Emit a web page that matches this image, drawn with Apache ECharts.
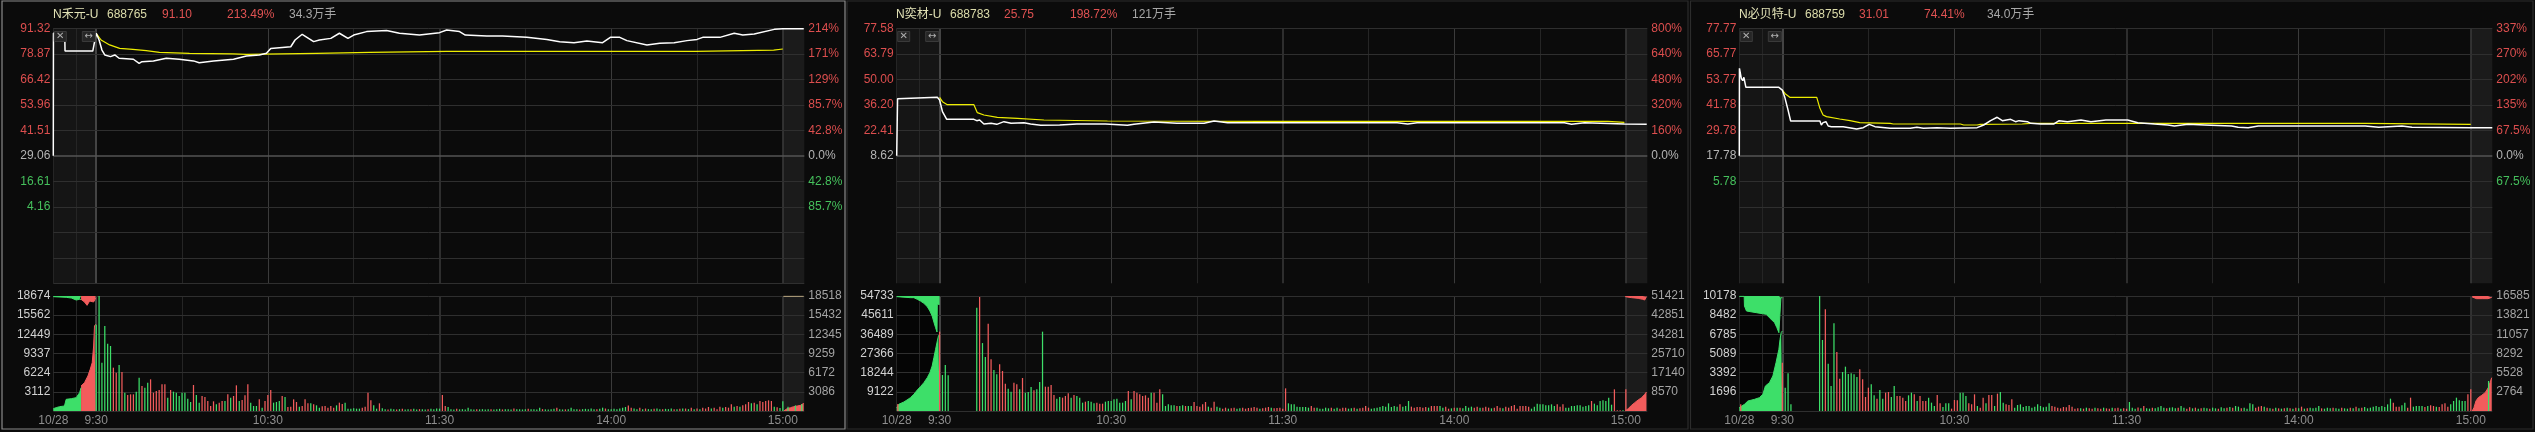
<!DOCTYPE html>
<html><head><meta charset="utf-8">
<script src="https://cdn.jsdelivr.net/npm/echarts@6/dist/echarts.min.js"></script>
<style>html,body{margin:0;padding:0;background:#0b0b0b;}#c{width:2535px;height:432px;}</style>
</head><body><div id="c"></div>
<script>
// ---------------- DATA ----------------
const NAMES = ['N禾元-U', 'N奕材-U', 'N必贝特-U'];
const CODES = ['688765', '688783', '688759'];
const LAST = ['91.10', '25.75', '31.01'];
const CHG = ['213.49%', '198.72%', '74.41%'];
const VOLTXT = ['34.3万手', '121万手', '34.0万手'];
const PRE_CLOSE = [29.06, 8.62, 17.78];
const PRICE_STEP = [12.452, 13.792, 11.998];
const VOL_TICKS_L = [['18674','15562','12449','9337','6224','3112'], ['54733','45611','36489','27366','18244','9122'], ['10178','8482','6785','5089','3392','1696']];
const VOL_TICKS_R = [['18518','15432','12345','9259','6172','3086'], ['51421','42851','34281','25710','17140','8570'], ['16585','13821','11057','8292','5528','2764']];
const VOL_MAX_L = [18674, 54733, 10178];
const VOL_MAX_R = [18518, 51421, 16585];
const X_LABELS = ['10/28', '9:30', '10:30', '11:30', '14:00', '15:00'];
const X_LABEL_MIN = [555, 570, 630, 690, 750, 810]; // minutes (afternoon joined after 11:30)

// panel 1 : N禾元-U
const P1_PRICE = [[555,29.06],[555.05,88.9],[556.5,89.2],[557.5,88.5],[559,88.9],[559.1,80.2],[568.8,80.2],[570,88.9],[571,85.6],[572,80.7],[573,78.3],[575,77.5],[576.5,78.3],[578,76.7],[583,76.2],[585,74.2],[586,75.0],[590,75.4],[594.5,76.7],[599,76.2],[604,75.4],[606,74.5],[611,75.4],[618,76.2],[622.5,77.8],[627,78.3],[629.5,79.1],[631,81.5],[638,82.3],[639.5,85.6],[642,88.4],[646,84.8],[648,85.6],[652,86.4],[655,88.9],[658,86.4],[660,88.0],[664.5,89.7],[671.5,90.2],[676,88.9],[683,88.0],[690,89.2],[692.5,90.5],[697,89.7],[699,88.0],[706.5,87.6],[712,87.6],[720.5,86.9],[727.5,85.9],[732,84.8],[737,84.3],[741.5,85.1],[747,84.3],[749.7,86.9],[753,86.9],[755.5,85.3],[762.5,83.2],[767,84.0],[772,84.3],[776.5,85.3],[780,85.9],[782,86.9],[788,86.9],[793,88.9],[796,88.0],[800,88.5],[807,90.8],[810,91.1],[817.3,91.1]];
const P1_AVG = [[570,88.85],[571.7,85.6],[574.7,83.2],[578.2,81.5],[582.8,81.0],[587.5,80.4],[592.1,79.6],[602.6,79.1],[617.8,78.8],[622.5,78.6],[647,79.1],[665.6,79.6],[692.5,80.1],[779.5,80.1],[780,80.7],[806.8,80.7],[807,81.2],[810,81.2]];
const P1_VOL = [14000,18674,7849,13803,10934,10555,7037,6225,7470,6333,2977,2598,2706,2706,3140,5413,4060,3789,4601,5142,2977,3248,3410,4330,4330,2165,3410,3140,2977,2436,2977,2977,2003,1462,4222,2598,1353,2436,2273,1624,812,1570,1083,1353,1624,1624,2706,2165,2436,4168,1624,1787,2544,4330,1353,812,812,1895,541,1624,2598,3410,1353,1462,1624,2436,2273,650,704,1895,1462,704,812,1895,1245,1245,1083,920,541,758,812,541,812,541,920,1353,1137,1353,379,379,433,379,379,541,704,2977,1732,920,379,1245,433,300,250,350,270,250,300,350,250,300,270,350,250,300,300,250,270,350,300,400,380,2598,812,650,300,250,350,270,300,250,540,300,250,300,270,300,250,300,270,250,300,350,250,270,300,250,400,300,270,250,300,350,270,300,250,540,300,270,250,300,350,540,300,250,270,300,540,300,270,250,300,350,270,400,300,270,350,540,400,300,270,350,300,400,540,650,900,540,400,300,540,300,400,300,270,350,400,300,270,350,300,400,300,270,350,400,400,300,540,300,400,300,540,400,650,400,540,300,700,540,650,540,1083,704,812,704,920,1083,1462,1245,1353,1083,1624,1462,1624,1732,1624,700,600,500,1600];
const P1_DIR = 'ggggggrrgr'+'grrrggrggr'+'rrrrrgrggg'+'ggggrggrrr'+'rrgrrgrgrr'+'grrrgggrgr'+'rrgggrgrrr'+'rgrrrgrggr'+'rrrrgrrggg'+'gggrrrrggr'+'ggrggrgrgg'+'rggrggrggg'+'grrgggrggg'+'gggrggggrg'+'ggrgggrggg'+'grggggrggg'+'grggrggggr'+'gggggrggrg'+'ggggggrrgg'+'rgrggrggrg'+'ggrgrgrgrg'+'rgrrrgrrrg'+'rrrgrgrrrg'+'rgrrrrrgrg'+'g';
const P1_PRE_BOT_G = [[555,379],[556,541],[557.2,704],[558.9,812],[559.4,812],[559.5,1895],[561.3,2003],[563,2165],[564.2,2977],[564.7,3789]];
const P1_PRE_BOT_R = [[564.7,4060],[565.9,4601],[567.1,5684],[567.9,6766],[568.6,7849],[569.1,10555],[569.4,13803],[569.8,14073]];
const P1_PRE_TOP_G = [[555,108],[559.5,216],[561.3,325],[563,650],[564.2,541],[564.7,541]];
const P1_PRE_TOP_R = [[564.7,541],[565.9,974],[566.8,1516],[567.1,1624],[567.7,812],[568.3,541],[569.1,974],[569.6,541],[569.8,300]];
const P1_POST_BOT = [[810.3,0],[810.6,268],[811.5,380],[812.7,537],[813.8,698],[815,805],[816.2,913],[817.3,1235]];
const P1_POST_BAR_G = [[811.8,700],[814.4,900],[816.6,1100]];
const P1_POST_TOP = [[810.2,40],[817.3,40]];

// panel 2 : N奕材-U
const P2_PRICE = [[555,8.62],[555.3,39.5],[555.6,40.24],[569.2,40.24],[570,38.8],[571,32.5],[572.5,28.34],[582,28.34],[583,27.62],[584,27.98],[585.5,25.82],[588,26.18],[590,25.64],[592.5,27.08],[595,26.18],[599.5,26.54],[601.8,25.82],[605.4,25.1],[612,25.28],[618,25.82],[628,25.82],[635.7,25.1],[638,25.64],[645,26.9],[653,26.18],[662.5,26.18],[663,27.08],[666,27.44],[670.7,26.54],[698,26.54],[730,26.54],[730.2,25.82],[733.7,25.82],[737,26.54],[785,26.54],[785.5,25.82],[788.5,26.54],[791,25.64],[795.5,26.54],[809.5,25.82],[810,25.75],[817.3,25.75]];
const P2_AVG = [[570,40.24],[571,37.9],[572.7,36.25],[582,36.25],[583.2,31.95],[585.5,30.7],[590.2,29.42],[597.2,28.88],[606.5,27.98],[628.7,27.44],[683.5,27.26],[803.7,27.26],[804,26.72],[809.5,26.72]];
const P2_VOL = [37759,17134,21894,16975,0,0,0,0,0,0,0,0,0,49182,54258,32333,25701,41566,24590,19514,17452,22211,19038,13009,10630,9202,13485,12692,10312,15706,8726,9043,11423,9836,10312,13803,37759,11581,11581,12375,7615,5870,6663,6346,7139,8409,6346,7615,7139,6346,3966,4443,4760,4443,3649,3966,3490,3490,4443,4760,4760,5553,5870,3966,3966,4760,9519,5553,9519,8726,7932,7139,7456,6346,8726,8726,3966,10312,7932,2380,3173,2697,2697,2380,2380,2697,2380,2380,2380,4284,2380,2063,3173,4284,2063,1587,4443,2063,1587,1111,1587,1111,1270,1587,1111,1270,1587,1111,1428,1587,1905,1587,1111,1270,1587,1905,1587,1270,1428,1587,1111,10788,3649,3173,3173,2063,1905,1905,1905,1587,2380,1587,1587,1111,1111,1587,1270,1587,1111,1587,1111,1587,1587,1111,1270,1587,1111,1270,1587,2380,1587,1111,1270,1587,1905,2380,2063,3649,1905,2380,2063,3173,2063,2380,4760,2063,1587,1905,1905,1587,1905,1587,2380,2380,2380,2380,1587,2063,1111,1270,1587,1587,1587,1270,2380,1587,2063,1587,2063,1587,1587,2063,1587,1270,1587,2380,1587,1270,2063,1587,2380,2856,1111,2380,2380,2380,2063,1111,2063,3490,3173,3173,2697,2697,3173,2380,3173,2063,3173,1587,1587,2380,2380,2697,2697,2063,2380,2697,4760,3490,2697,4760,5077,4760,6346,3000,10312,300,300,300,10312];
const P2_DIR = 'rgggrrrrrr'+'rrrgrggrrg'+'grrrggrrgr'+'gggrgggrrr'+'rggrrrgrgg'+'grgggrrrgg'+'ggggggrgrr'+'rrrrgrrrgg'+'gggrggrggr'+'rrrrgrrggr'+'rgrrggrrrr'+'rrgrrrgrrr'+'rrgggggggg'+'rrgggggrgg'+'rrrggrgrrr'+'rggggggggg'+'grgggrrrrr'+'rgrrrggrrg'+'rgrggggrrg'+'rrrgrrrgrr'+'rrrrrrrggg'+'ggggggrrrg'+'ggggggggrg'+'ggggggrrrg'+'r';
const P2_PRE_BOT_G = [[555,1500],[555.7,3173],[557.5,4284],[558.6,5235],[559.8,6346],[561,7932],[562.2,9995],[563.3,11581],[564.5,13485],[565.7,15865],[566.6,18245],[567.4,21418],[568,25384],[568.6,29350],[569.2,33317],[569.6,35696],[570,36500]];
const P2_PRE_BAR_R = [[555.4,3300]];
const P2_PRE_TOP_G = [[555,300],[559.8,793],[561,793],[562.2,1587],[563.3,2380],[564.5,3490],[565.7,5077],[566.6,7139],[567.4,9519],[568,12375],[568.6,15071],[569.1,17134],[569.2,3967],[570,3967]];
const P2_POST_BOT = [[809.8,0],[810.8,1043],[812,2534],[813.1,3726],[814.3,4919],[815.5,5962],[816.6,7453],[817.2,8496]];
const P2_POST_TOP = [[809.8,300],[812,745],[814.3,1043],[815.9,1490],[816.6,1789],[817.2,300]];

// panel 3 : N必贝特-U
const P3_PRICE = [[555,17.78],[555.05,58.95],[555.7,54.2],[556.2,53.1],[556.6,54.7],[557.2,54.7],[557.3,50.0],[568.8,50.0],[569,49.06],[570,48.7],[570.8,45.6],[572,39.3],[572.9,34.16],[583.1,34.16],[583.6,32.3],[584.2,33.37],[585.2,33.84],[586,31.8],[587.1,31.49],[591.2,31.49],[595.9,30.4],[598.2,31.02],[600.3,32.59],[602.3,31.49],[607.6,30.7],[614.6,30.7],[616.9,31.17],[619.2,30.7],[623.9,31.02],[628.6,30.7],[637.9,31.02],[640.2,32.27],[642.6,34.32],[644.9,35.9],[646.7,34.32],[649.6,34.95],[651.3,33.84],[652.5,34.32],[655.4,33.84],[656.6,33.06],[660.1,32.75],[664.7,32.75],[666.5,34.32],[669.4,33.84],[674.1,34.63],[677.6,33.84],[682.8,34.63],[690.4,34.63],[693.9,33.37],[699.7,32.75],[704.4,32.27],[706.7,31.8],[711.4,32.59],[717.2,32.27],[726.6,31.8],[728.9,31.17],[732.4,31.02],[735.9,31.8],[773.2,31.8],[777.9,31.17],[786,31.8],[789.5,31.17],[810,31.01],[817.5,31.01]];
const P3_AVG = [[570,48.7],[571,47.0],[572.6,45.3],[582,45.3],[583.1,40.1],[584.2,37.0],[585.4,36.2],[590,35.1],[593.6,34.3],[597,33.4],[607.6,33.06],[608.7,32.75],[632.1,32.75],[633.2,32.27],[637.9,32.27],[639,32.59],[653.6,32.75],[656.6,33.06],[773.2,33.06],[773.5,32.59],[810,32.59]];
const P3_VOL = [4278,2065,3334,590,0,0,0,0,0,0,0,0,0,10178,6284,8998,4189,2213,7759,5222,2862,3452,3924,3275,3334,3245,3009,3688,2803,1239,2065,2360,1387,1092,1859,1092,1623,1682,1239,2213,1328,1328,1180,885,1387,1623,1475,885,1328,885,885,1180,738,443,1416,679,354,679,679,207,974,944,1623,1623,1328,679,590,1475,443,295,1180,679,1416,1416,443,1534,1682,738,590,531,1033,295,531,590,354,443,443,295,383,590,443,325,383,679,443,383,295,236,354,325,531,383,207,236,236,207,295,236,207,295,236,207,295,236,207,295,236,295,207,236,200,797,295,207,300,250,443,236,207,295,236,325,443,295,236,295,325,236,295,443,295,207,325,236,295,207,236,295,236,207,295,236,207,325,236,295,354,295,443,383,236,295,207,679,590,295,383,443,383,295,236,207,295,236,207,236,295,236,207,295,236,383,207,236,295,236,295,443,236,207,295,236,295,236,207,295,236,207,295,236,383,236,295,354,236,295,383,443,354,443,354,590,1092,738,383,383,502,738,295,1180,383,443,443,443,354,443,502,443,383,354,590,679,383,590,885,1180,943,885,885,1475,1918];
const P3_DIR = 'rgggrrrrrr'+'rrrggrgggr'+'rggggggrrr'+'rggrggrrgg'+'rrrrggrgrr'+'rgggrrgggr'+'rrgggrrrgr'+'rgrrgrggrr'+'rggggggggg'+'ggggrrrrrr'+'rrrrgrgrrg'+'rrgrrgrrgr'+'rgggrgrggr'+'ggggrgggrg'+'grrgrgrggr'+'ggrggrgrgg'+'rggggrrrgr'+'grgrgrgrgr'+'grgrggggrg'+'ggrggrggrg'+'rgrggggggg'+'gggrrrggrr'+'ggggrgrrgr'+'rrrggggggr'+'r';
const P3_PRE_BOT_G = [[555,300],[556.8,590],[558,885],[560.3,1033],[562,1180],[563.2,1475],[564.1,2213],[565.5,2508],[566.7,3098],[567.8,4278],[568.8,5458],[569.2,6343],[569.6,6933],[570,7080]];
const P3_PRE_BAR_R = [[555.5,600]];
const P3_PRE_TOP_G = [[555,30],[556.7,30],[556.8,885],[557.5,1328],[560.9,1475],[564.4,1623],[565.5,1918],[567.3,2360],[568.1,2803],[568.8,3245],[569.2,3393],[569.5,150],[570,150]];
const P3_POST_BOT = [[810.5,0],[811.1,481],[811.8,1442],[812.6,1923],[813.8,2259],[815,2644],[816.1,3365],[816.7,4086],[817.3,4807]];
const P3_POST_BAR_G = [[816.2,4326]];
const P3_POST_TOP = [[810.5,150],[812,385],[814,385],[816,385],[817.3,200]];

// ---------------- STYLE / LAYOUT ----------------
const T_OPEN = 570, X_MIN = 555, X_MAX = 817.5;
const FONT = '"Liberation Sans", Arial, "Noto Sans CJK SC", sans-serif';
const RED_T = '#dc4e4e', GREEN_T = '#45c05c', GRAY_T = '#b4b4b4';
const BAR_R = '#f25c5c', BAR_G = '#3ddf69';
const G_DIM = '#252525', G_MID = '#2f2f2f', G_BRIGHT = '#3b3b3b', G_ZERO = '#545454';
const PLOT_L = [53.3, 896.7, 1739.3], PLOT_R = [804.3, 1647.3, 2492.3];
const HEAD_X = [[53, 107, 162, 227, 289], [896, 950, 1004, 1070, 1132], [1739, 1805, 1859, 1924, 1987]];
const BOXES = [[2, 1, 843, 428, '#8a8a8a'], [847, 1, 841, 428, '#2c2c2c'], [1690.5, 1, 842.5, 428, '#2c2c2c']];

const PANELS = [
  {price: P1_PRICE, avg: P1_AVG, vol: P1_VOL, dir: P1_DIR, preBotG: P1_PRE_BOT_G, preBotR: P1_PRE_BOT_R, preTopG: P1_PRE_TOP_G, preTopR: P1_PRE_TOP_R, preBarR: [], postBot: P1_POST_BOT, postBarG: P1_POST_BAR_G, postTop: P1_POST_TOP, postTopColor: '#c8b48a'},
  {price: P2_PRICE, avg: P2_AVG, vol: P2_VOL, dir: P2_DIR, preBotG: P2_PRE_BOT_G, preBotR: [], preTopG: P2_PRE_TOP_G, preTopR: [], preBarR: P2_PRE_BAR_R, postBot: P2_POST_BOT, postBarG: [], postTop: P2_POST_TOP, postTopColor: BAR_R},
  {price: P3_PRICE, avg: P3_AVG, vol: P3_VOL, dir: P3_DIR, preBotG: P3_PRE_BOT_G, preBotR: [], preTopG: P3_PRE_TOP_G, preTopR: [], preBarR: P3_PRE_BAR_R, postBot: P3_POST_BOT, postBarG: P3_POST_BAR_G, postTop: P3_POST_TOP, postTopColor: BAR_R}
];

const option = {backgroundColor: '#0b0b0b', animation: false, grid: [], xAxis: [], yAxis: [], series: [], graphic: []};

function vLines() {
  const defs = [[555, G_DIM, 1], [563, G_DIM, 1], [570, '#444', 2], [600, G_DIM, 1], [630, G_BRIGHT, 1], [660, G_DIM, 1], [690, G_BRIGHT, 1.5], [720, G_DIM, 1], [750, G_BRIGHT, 1], [780, G_DIM, 1], [810, G_BRIGHT, 1.5]];
  return defs.map(d => ({xAxis: d[0], lineStyle: {color: d[1], width: d[2], type: 'solid'}}));
}
const mlBase = {silent: true, symbol: ['none', 'none'], z: 1, label: {show: false}, animation: false, emphasis: {disabled: true}};

PANELS.forEach((P, k) => {
  const pc = PRE_CLOSE[k], st = PRICE_STEP[k], ps = st / pc * 100;
  const L = PLOT_L[k], W = PLOT_R[k] - PLOT_L[k];
  const pMin = pc - 5 * st, pMax = pc + 5 * st, qMin = -5 * ps, qMax = 5 * ps;
  option.grid.push({left: L, top: 28.3, width: W, height: 255});
  option.grid.push({left: L, top: 296, width: W, height: 115});
  const gx0 = 2 * k, gx1 = 2 * k + 1, yP = 4 * k, yPct = 4 * k + 1, yVL = 4 * k + 2, yVR = 4 * k + 3;
  option.xAxis.push({gridIndex: 2 * k, type: 'value', min: X_MIN, max: X_MAX, show: false});
  option.xAxis.push({gridIndex: 2 * k + 1, type: 'value', min: X_MIN, max: X_MAX, axisLine: {show: false}, axisTick: {show: false}, splitLine: {show: false},
    axisLabel: {customValues: X_LABEL_MIN, showMinLabel: true, showMaxLabel: true, margin: 4, color: '#8e8e8e', fontSize: 12, fontFamily: FONT,
      formatter: v => X_LABELS[X_LABEL_MIN.indexOf(Math.round(Number(v)))] || ''}});
  const leftVals = [], pctVals = [];
  for (let j = 5; j >= -5; j--) {
    if (pc + j * st > 0.5) {
      leftVals.push(j === 5 ? pMax : (j === -5 ? pMin : pc + j * st));
      pctVals.push(j === 5 ? qMax : (j === -5 ? qMin : j * ps));
    }
  }
  const colorBy = (v, c) => Math.abs(v - c) < 1e-3 ? GRAY_T : (v > c ? RED_T : GREEN_T);
  option.yAxis.push({gridIndex: 2 * k, type: 'value', min: pMin, max: pMax, position: 'left', axisLine: {show: false}, axisTick: {show: false}, splitLine: {show: false},
    axisLabel: {customValues: leftVals, showMinLabel: true, showMaxLabel: true, margin: 3, fontSize: 12, fontFamily: FONT, formatter: v => Number(v).toFixed(2), color: v => colorBy(parseFloat(v), pc)}});
  option.yAxis.push({gridIndex: 2 * k, type: 'value', min: qMin, max: qMax, position: 'right', axisLine: {show: false}, axisTick: {show: false}, splitLine: {show: false},
    axisLabel: {customValues: pctVals, showMinLabel: true, showMaxLabel: true, margin: 4, fontSize: 12, fontFamily: FONT,
      formatter: v => { const a = Math.abs(Number(v)); if (a < 1e-3) return '0.0%'; return (a >= 99.95 ? a.toFixed(0) : a.toFixed(1)) + '%'; },
      color: v => colorBy(parseFloat(v), 0)}});
  const vmL = VOL_MAX_L[k], vmR = VOL_MAX_R[k];
  const vVals = [6, 5, 4, 3, 2, 1];
  option.yAxis.push({gridIndex: 2 * k + 1, type: 'value', min: 0, max: vmL, position: 'left', axisLine: {show: false}, axisTick: {show: false}, splitLine: {show: false},
    axisLabel: {customValues: vVals.map(j => j === 6 ? vmL : vmL * j / 6), showMinLabel: true, showMaxLabel: true, margin: 3, fontSize: 12, fontFamily: FONT, color: '#d2d2d2',
      formatter: v => VOL_TICKS_L[k][6 - Math.round(6 * Number(v) / vmL)] || ''}});
  option.yAxis.push({gridIndex: 2 * k + 1, type: 'value', min: 0, max: vmR, position: 'right', axisLine: {show: false}, axisTick: {show: false}, splitLine: {show: false},
    axisLabel: {customValues: vVals.map(j => j === 6 ? vmR : vmR * j / 6), showMinLabel: true, showMaxLabel: true, margin: 4, fontSize: 12, fontFamily: FONT, color: '#a4a4a4',
      formatter: v => VOL_TICKS_R[k][6 - Math.round(6 * Number(v) / vmR)] || ''}});

  // grid helpers (gridlines and session shading drawn through the axes' scales)
  const hP = [];
  for (let j = -5; j <= 5; j++) hP.push({yAxis: pc + j * st, lineStyle: {color: j === 0 ? G_ZERO : G_MID, width: j === 0 ? 1.5 : 1, type: 'solid'}});
  option.series.push({type: 'line', xAxisIndex: gx0, yAxisIndex: yP, data: [[X_MIN, pc]], showSymbol: false, lineStyle: {opacity: 0}, silent: true, z: 0,
    markLine: Object.assign({}, mlBase, {data: vLines().concat(hP)}),
    markArea: {silent: true, z: 0, data: [[{xAxis: X_MIN, itemStyle: {color: '#151515'}}, {xAxis: 570}], [{xAxis: 810, itemStyle: {color: '#1b1b1b'}}, {xAxis: X_MAX}]]}});
  const hV = [];
  for (let j = 0; j <= 6; j++) hV.push({yAxis: vmL * j / 6, lineStyle: {color: G_MID, width: 1, type: 'solid'}});
  option.series.push({type: 'line', xAxisIndex: gx1, yAxisIndex: yVL, data: [[X_MIN, 0]], showSymbol: false, lineStyle: {opacity: 0}, silent: true, z: 0,
    markLine: Object.assign({}, mlBase, {data: vLines().concat(hV)}),
    markArea: {silent: true, z: 0, data: [[{xAxis: X_MIN, itemStyle: {color: '#050505'}}, {xAxis: 570}], [{xAxis: 810, itemStyle: {color: '#1b1b1b'}}, {xAxis: X_MAX}]]}});

  // price + average
  option.series.push({type: 'line', xAxisIndex: gx0, yAxisIndex: yP, data: P.avg, showSymbol: false, silent: true, z: 3, lineStyle: {color: '#eded00', width: 1.2}});
  option.series.push({type: 'line', xAxisIndex: gx0, yAxisIndex: yP, data: P.price, showSymbol: false, silent: true, z: 4, lineStyle: {color: '#ffffff', width: 1.5}});

  // per-minute volume bars
  const bars = [];
  P.vol.forEach((v, i) => { if (v > 0) bars.push({value: [T_OPEN + i, v], itemStyle: {color: P.dir[i] === 'r' ? BAR_R : BAR_G}}); });
  const area = (data, yi, color, inverted, max, z) => ({type: 'line', xAxisIndex: gx1, yAxisIndex: yi, silent: true, z: z || 2, showSymbol: false,
    data: inverted ? data.map(d => [d[0], max - d[1]]) : data,
    lineStyle: {color: color, width: 1}, areaStyle: {color: color, opacity: 1, origin: inverted ? 'end' : 'start'}});
  if (P.preBotG.length) option.series.push(area(P.preBotG, yVL, BAR_G, false, vmL));
  if (P.preBotR.length) option.series.push(area(P.preBotR, yVL, BAR_R, false, vmL));
  if (P.preTopG.length) option.series.push(area(P.preTopG, yVL, BAR_G, true, vmL));
  if (P.preTopR.length) option.series.push(area(P.preTopR, yVL, BAR_R, true, vmL));
  option.series.push(area(P.postBot, yVR, BAR_R, false, vmR));
  option.series.push(area(P.postTop, yVR, P.postTopColor, true, vmR));
  option.series.push({type: 'bar', xAxisIndex: gx1, yAxisIndex: yVL, data: bars, barWidth: 1.25, barGap: '-100%', silent: true, z: 3});
  option.series.push({type: 'bar', xAxisIndex: gx1, yAxisIndex: yVL, data: P.preBarR.map(d => ({value: d, itemStyle: {color: BAR_R}})), barWidth: 1.25, barGap: '-100%', silent: true, z: 3});
  option.series.push({type: 'bar', xAxisIndex: gx1, yAxisIndex: yVR, data: P.postBarG.map(d => ({value: d, itemStyle: {color: BAR_G}})), barWidth: 1.25, barGap: '-100%', silent: true, z: 3});

  // header
  const hx = HEAD_X[k];
  const hdr = [[NAMES[k], '#e2e2b6'], [CODES[k], '#dcdcaa'], [LAST[k], '#e05252'], [CHG[k], '#e05252'], [VOLTXT[k], '#a8a8a8']];
  hdr.forEach((h, i) => option.graphic.push({type: 'text', x: hx[i], y: 14.7, silent: true, z: 10, style: {text: h[0], fill: h[1], font: '12px ' + FONT, verticalAlign: 'middle', align: 'left'}}));
  // small tool icons
  option.graphic.push({type: 'rect', x: L + 1, y: 31.5, silent: true, z: 9, shape: {width: 12, height: 10}, style: {fill: '#262626', stroke: '#3a3a3a', lineWidth: 1}});
  option.graphic.push({type: 'text', x: L + 7, y: 36.8, silent: true, z: 10, style: {text: '✕', fill: '#b0b0b0', font: '10px "DejaVu Sans"', align: 'center', verticalAlign: 'middle'}});
  option.graphic.push({type: 'rect', x: L + 29, y: 31.5, silent: true, z: 9, shape: {width: 13, height: 10}, style: {fill: '#262626', stroke: '#3a3a3a', lineWidth: 1}});
  option.graphic.push({type: 'text', x: L + 35.5, y: 36.5, silent: true, z: 10, style: {text: '↔', fill: '#b0b0b0', font: '10px "DejaVu Sans"', align: 'center', verticalAlign: 'middle'}});
  // panel frame
  const b = BOXES[k];
  option.graphic.push({type: 'rect', x: b[0], y: b[1], silent: true, z: 20, shape: {width: b[2], height: b[3]}, style: {fill: 'none', stroke: b[4], lineWidth: 1.2}});
});

const chart = echarts.init(document.getElementById('c'), null, {renderer: 'canvas'});
chart.setOption(option);
</script></body></html>
